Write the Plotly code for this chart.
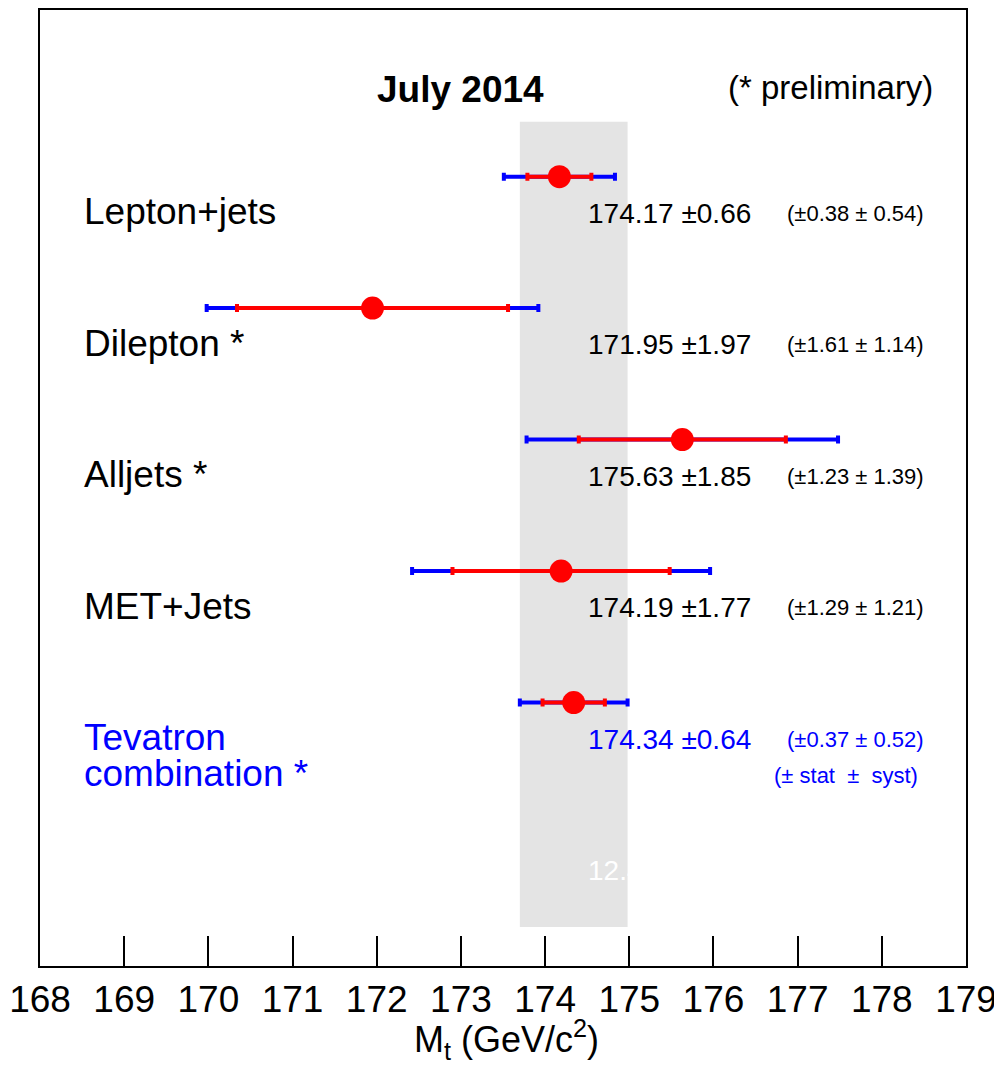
import plotly.graph_objects as go

# ---- data ----
channels = [["Lepton+jets"], ["Dilepton *"], ["Alljets *"], ["MET+Jets"], ["Tevatron", "combination *"]]
mass = [174.17, 171.95, 175.63, 174.19, 174.34]
total = [0.66, 1.97, 1.85, 1.77, 0.64]
stat = [0.38, 1.61, 1.23, 1.29, 0.37]
syst = [0.54, 1.14, 1.39, 1.21, 0.52]
label_colors = ["black", "black", "black", "black", "#0000ff"]
x_ticks = list(range(168, 180))

rows = list(range(len(mass)))
FONT = "Liberation Sans, Arial, Helvetica, sans-serif"
BLUE = "#0000ff"
RED = "#ff0000"

fig = go.Figure()

# combination band
comb = len(mass) - 1
fig.add_shape(type="rect", xref="x", yref="y",
              x0=mass[comb] - total[comb], x1=mass[comb] + total[comb],
              y0=-0.417, y1=5.708, fillcolor="#e4e4e4", line=dict(width=0), layer="below")

# total uncertainty (blue)
fig.add_trace(go.Scatter(
    x=mass, y=rows, mode="markers",
    marker=dict(size=2, color=BLUE),
    error_x=dict(type="data", array=total, color=BLUE, thickness=4, width=4),
    showlegend=False, hoverinfo="skip"))
# stat uncertainty (red) + central value
fig.add_trace(go.Scatter(
    x=mass, y=rows, mode="markers",
    marker=dict(size=23, color=RED, symbol="circle"),
    error_x=dict(type="data", array=stat, color=RED, thickness=4, width=4),
    showlegend=False, hoverinfo="skip"))

ann = []
for i, (lines, m, t, s, sy, c) in enumerate(zip(channels, mass, total, stat, syst, label_colors)):
    for k, line in enumerate(lines):
        ann.append(dict(x=168.5, y=i + 0.266 + k * 0.273, xref="x", yref="y", text=line,
                        showarrow=False, xanchor="left", yanchor="middle",
                        font=dict(family=FONT, size=37, color=c)))
    ann.append(dict(x=174.485, y=i + 0.28, xref="x", yref="y",
                    text=f"{m:.2f} \u00b1{t:.2f}", showarrow=False,
                    xanchor="left", yanchor="middle",
                    font=dict(family=FONT, size=28, color=c)))
    ann.append(dict(x=176.85, y=i + 0.28, xref="x", yref="y",
                    text=f"(\u00b1{s:.2f} \u00b1 {sy:.2f})", showarrow=False,
                    xanchor="left", yanchor="middle",
                    font=dict(family=FONT, size=22, color=c)))

ann.append(dict(x=176.70, y=len(mass) - 1 + 0.555, xref="x", yref="y",
                text="(\u00b1 stat  \u00b1  syst)", showarrow=False,
                xanchor="left", yanchor="middle",
                font=dict(family=FONT, size=22, color=BLUE)))
ann.append(dict(x=172.99, y=-0.66, xref="x", yref="y", text="<b>July 2014</b>",
                showarrow=False, xanchor="center", yanchor="middle",
                font=dict(family=FONT, size=37, color="black")))
ann.append(dict(x=177.385, y=-0.68, xref="x", yref="y", text="(* preliminary)",
                showarrow=False, xanchor="center", yanchor="middle",
                font=dict(family=FONT, size=33, color="black")))
ann.append(dict(x=174.485, y=5.28, xref="x", yref="y", text="12.4",
                showarrow=False, xanchor="left", yanchor="middle",
                font=dict(family=FONT, size=28, color="white")))
# axis title
ann.append(dict(x=173.54, y=-0.077, xref="x", yref="paper",
                text="M<sub>t</sub> (GeV/c<sup>2</sup>)", showarrow=False,
                xanchor="center", yanchor="middle",
                font=dict(family=FONT, size=36, color="black")))

fig.update_layout(
    width=994, height=1057,
    margin=dict(l=32, r=36, t=0, b=99),
    paper_bgcolor="white", plot_bgcolor="white",
    annotations=ann,
    xaxis=dict(range=[168, 179], tickvals=x_ticks, ticktext=[str(v) for v in x_ticks],
               ticks="inside", ticklen=30, tickwidth=1.5, tickcolor="black",
               showline=True, linecolor="black", linewidth=2, mirror=True,
               showgrid=False, zeroline=False,
               tickfont=dict(family=FONT, size=37, color="black")),
    yaxis=dict(range=[6.004, -1.2675], showticklabels=False, ticks="",
               showline=True, linecolor="black", linewidth=2, mirror=True,
               showgrid=False, zeroline=False),
)

fig.write_html("out.html")
